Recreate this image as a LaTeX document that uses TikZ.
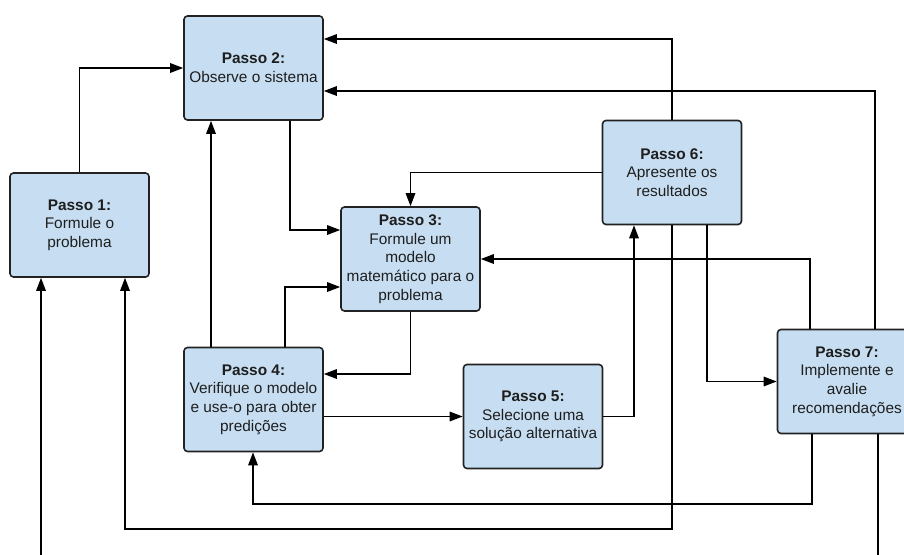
\documentclass[tikz,border=0pt]{standalone}
\usepackage{fontspec}
\setmainfont{Liberation Sans}
\usetikzlibrary{arrows.meta}
\definecolor{boxfill}{RGB}{199,222,242}
\definecolor{boxline}{RGB}{34,34,34}
\definecolor{txt}{RGB}{30,30,30}
\begin{document}
\begin{tikzpicture}[x=1pt,y=-1pt,
  stepbox/.style={draw=boxline,fill=boxfill,line width=1.6pt,rounded corners=3.5pt,
    minimum width=139pt,minimum height=104pt,inner sep=2pt,align=center,
    text=txt,font=\fontsize{15.4}{18.7}\selectfont},
  arr/.style={draw=black,line width=1.5pt,-{Triangle[length=13pt,width=9.5pt]}},
  ln/.style={draw=black,line width=1.5pt}]
\useasboundingbox (0,0) rectangle (904,554);
\clip (0,0) rectangle (904,554);
\node[stepbox] (b1) at (79.5,225) {\textbf{Passo 1:}\\Formule o\\problema};
\node[stepbox] (b2) at (253.5,68) {\textbf{Passo 2:}\\Observe o sistema};
\node[stepbox] (b3) at (410.5,259) {\textbf{Passo 3:}\\Formule um\\modelo\\matemático para o\\problema};
\node[stepbox] (b4) at (253.5,399.5) {\textbf{Passo 4:}\\Verifique o modelo\\e use-o para obter\\predições};
\node[stepbox] (b5) at (533,416.5) {\textbf{Passo 5:}\\Selecione uma\\solução alternativa};
\node[stepbox] (b6) at (672,172.5) {\textbf{Passo 6:}\\Apresente os\\resultados};
\node[stepbox] (b7) at (847,381.5) {\textbf{Passo 7:}\\Implemente e\\avalie\\recomendações};
\coordinate (low1) at (0,529);
\coordinate (low2) at (0,504);
\coordinate (low3) at (0,600);
% connectors
\draw[arr] (b1.north) |- (b2.west);
\draw[arr] (b6.north) |- ([yshift=29pt]b2.east);
\draw[arr] ([xshift=28pt]b7.north) |- ([yshift=-23pt]b2.east);
\draw[arr] ([xshift=36.5pt]b2.south) |- ([yshift=29pt]b3.west);
\draw[arr] (b6.west) -| (b3.north);
\draw[arr] ([xshift=-42.5pt]b4.north) -- ([xshift=-42.5pt]b2.south);
\draw[arr] ([xshift=31.5pt]b4.north) |- ([yshift=-28pt]b3.west);
\draw[arr] (b3.south) |- ([yshift=25.5pt]b4.east);
\draw[arr] (b4.east |- b5.west) -- (b5.west);
\draw[arr] (b5.east) -| ([xshift=-38pt]b6.south);
\draw[arr] ([xshift=-37pt]b7.north) |- (b3.east);
\draw[arr] ([xshift=35pt]b6.south) |- (b7.west);
\draw[arr] (b6.south) -- (b6.south |- low1) -| ([xshift=45.5pt]b1.south);
\draw[arr] ([xshift=-35pt]b7.south) -- ([xshift=-35pt]b7.south |- low2) -| ([xshift=-0.5pt]b4.south);
\draw[arr] ([xshift=31pt]b7.south) -- ([xshift=31pt]b7.south |- low3) -| ([xshift=-38.5pt]b1.south);
\end{tikzpicture}
\end{document}
